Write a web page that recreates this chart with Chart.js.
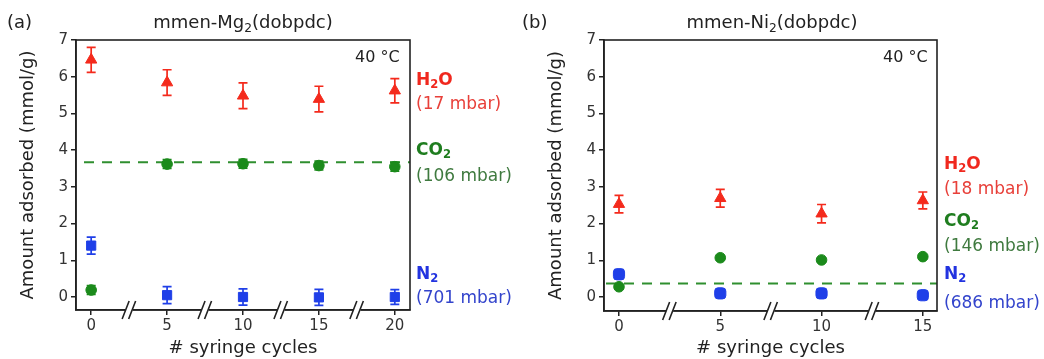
<!DOCTYPE html>
<html><head><meta charset="utf-8">
<script src="https://cdn.jsdelivr.net/npm/chart.js@4/dist/chart.umd.min.js"></script>
<style>
body{margin:0;background:#fff;width:1044px;height:359px;overflow:hidden;position:relative;font-family:"DejaVu Sans",sans-serif;color:#222;}
canvas{position:absolute;top:0}
.t{position:absolute;white-space:nowrap;line-height:20px;}
.t sub{font-size:0.68em;vertical-align:-0.3em;line-height:0}
.c{transform:translateX(-50%)}
.r{color:#f0281e}.rl{color:#e8403a}
.g{color:#1f7d1f}.gl{color:#3f7a3f}
.b{color:#2233e0}.bl{color:#3344cc}
.bold{font-weight:bold}
</style></head><body>
<canvas id="ca" width="520" height="359" style="left:0"></canvas>
<canvas id="cb" width="524" height="359" style="left:520px"></canvas>

<div class="t" style="left:7px;top:12px;font-size:18px">(a)</div>
<div class="t c" style="left:243px;top:12px;font-size:18px">mmen-Mg<sub>2</sub>(dobpdc)</div>
<div class="t" style="left:355px;top:47px;font-size:16px">40 °C</div>
<div class="t bold r" style="left:416px;top:69px;font-size:17px">H<sub>2</sub>O</div>
<div class="t rl" style="left:416px;top:93px;font-size:17px">(17 mbar)</div>
<div class="t bold g" style="left:416px;top:139px;font-size:17px">CO<sub>2</sub></div>
<div class="t gl" style="left:416px;top:165px;font-size:17px">(106 mbar)</div>
<div class="t bold b" style="left:416px;top:263px;font-size:17px">N<sub>2</sub></div>
<div class="t bl" style="left:416px;top:287px;font-size:17px">(701 mbar)</div>

<div class="t" style="left:522px;top:12px;font-size:18px">(b)</div>
<div class="t c" style="left:772px;top:12px;font-size:18px">mmen-Ni<sub>2</sub>(dobpdc)</div>
<div class="t" style="left:883px;top:47px;font-size:16px">40 °C</div>
<div class="t bold r" style="left:944px;top:153px;font-size:17px">H<sub>2</sub>O</div>
<div class="t rl" style="left:944px;top:178px;font-size:17px">(18 mbar)</div>
<div class="t bold g" style="left:944px;top:210px;font-size:17px">CO<sub>2</sub></div>
<div class="t gl" style="left:944px;top:235px;font-size:17px">(146 mbar)</div>
<div class="t bold b" style="left:944px;top:263px;font-size:17px">N<sub>2</sub></div>
<div class="t bl" style="left:944px;top:292px;font-size:17px">(686 mbar)</div>

<script>
// ---- Data: panel (a) mmen-Mg2(dobpdc) ----
const cyclesA = [0, 5, 10, 15, 20];
const h2oA    = [6.46, 5.84, 5.48, 5.39, 5.62];
const h2oErrA = [0.34, 0.35, 0.35, 0.35, 0.33];
const co2A    = [0.19, 3.62, 3.63, 3.58, 3.55];
const co2ErrA = [0.12, 0.12, 0.12, 0.12, 0.12];
const n2A     = [1.40, 0.05, 0.00, -0.01, 0.00];
const n2ErrA  = [0.23, 0.23, 0.22, 0.22, 0.20];
const co2RefA = 3.67;
const breaksA = [2.5, 7.5, 12.5, 17.5];

// ---- Data: panel (b) mmen-Ni2(dobpdc) ----
const cyclesB = [0, 5, 10, 15];
const h2oB    = [2.53, 2.69, 2.27, 2.63];
const h2oErrB = [0.24, 0.24, 0.25, 0.23];
const co2B    = [0.28, 1.07, 1.01, 1.10];
const co2ErrB = [0.05, 0.05, 0.05, 0.05];
const n2B     = [0.62, 0.10, 0.10, 0.05];
const n2ErrB  = [0.13, 0.08, 0.08, 0.08];
const co2RefB = 0.37;
const breaksB = [2.5, 7.5, 12.5];

const yTicks = [0, 1, 2, 3, 4, 5, 6, 7];

const RED = '#f42a1c', GREEN = '#1b8a1b', BLUE = '#1f3fe8', AXIS = '#222';
const FONT = '"DejaVu Sans", sans-serif';

const pts = (xs, ys) => xs.map((x, i) => ({x, y: ys[i]}));

const decor = {
  id: 'decor',
  beforeDatasetsDraw(chart, args, o) {
    const {ctx, chartArea: a, scales: {x, y}} = chart;
    ctx.save();
    const yy = y.getPixelForValue(o.ref);
    ctx.strokeStyle = '#2f8f2f'; ctx.lineWidth = 2; ctx.setLineDash([10, 8]);
    ctx.beginPath(); ctx.moveTo(a.left + o.refStart, yy); ctx.lineTo(a.right, yy); ctx.stroke();
    ctx.setLineDash([]);
    chart.data.datasets.forEach(ds => {
      if (!ds.err) return;
      ctx.strokeStyle = ds.borderColor; ctx.lineWidth = 1.7;
      ds.data.forEach((p, i) => {
        const px = x.getPixelForValue(p.x);
        const t = y.getPixelForValue(p.y + ds.err[i]);
        const b = y.getPixelForValue(p.y - ds.err[i]);
        ctx.beginPath();
        ctx.moveTo(px, t); ctx.lineTo(px, b);
        ctx.moveTo(px - 4.5, t); ctx.lineTo(px + 4.5, t);
        ctx.moveTo(px - 4.5, b); ctx.lineTo(px + 4.5, b);
        ctx.stroke();
      });
    });
    ctx.restore();
  },
  afterDraw(chart, args, o) {
    const {ctx, chartArea: a, scales: {x}} = chart;
    ctx.save();
    ctx.strokeStyle = AXIS; ctx.lineWidth = 1.6;
    ctx.strokeRect(a.left, a.top, a.right - a.left, a.bottom - a.top);
    o.breaks.forEach(v => {
      const px = x.getPixelForValue(v);
      ctx.fillStyle = '#fff';
      ctx.fillRect(px - 3.5, a.bottom - 2, 7, 4);
      ctx.strokeStyle = AXIS; ctx.lineWidth = 1.6;
      ctx.beginPath();
      ctx.moveTo(px - 7, a.bottom + 9); ctx.lineTo(px, a.bottom - 9);
      ctx.moveTo(px - 0.5, a.bottom + 9); ctx.lineTo(px + 6.5, a.bottom - 9);
      ctx.stroke();
    });
    ctx.restore();
  }
};

function makeChart(id, cyc, h2o, h2oE, co2, co2E, n2, n2E, ref, breaks, cfg) {
  const common = {showLine: false, pointBorderWidth: 1};
  return new Chart(document.getElementById(id), {
    type: 'scatter',
    data: {
      datasets: [
        {...common, label: 'CO2', data: pts(cyc, co2), err: co2E, pointStyle: 'circle', pointRadius: 5.3,
         backgroundColor: GREEN, borderColor: GREEN},
        {...common, label: 'N2', data: pts(cyc, n2), err: n2E, pointStyle: cfg.n2Style, pointRadius: 6.5,
         backgroundColor: BLUE, borderColor: BLUE},
        {...common, label: 'H2O', data: pts(cyc, h2o), err: h2oE, pointStyle: 'triangle', pointRadius: 6.5,
         backgroundColor: RED, borderColor: RED}
      ]
    },
    options: {
      responsive: false, animation: false, devicePixelRatio: 1,
      layout: {padding: {left: cfg.padLeft, right: cfg.padRight, top: 40, bottom: 0}},
      plugins: {legend: {display: false}, tooltip: {enabled: false},
        decor: {ref, breaks, refStart: cfg.refStart}},
      scales: {
        x: {
          type: 'linear', min: cfg.xmin, max: cfg.xmax,
          afterBuildTicks: s => { s.ticks = cyc.map(v => ({value: v})); },
          afterFit: s => { s.height = cfg.xh; },
          ticks: {color: '#333', font: {family: FONT, size: 15}, padding: 2, autoSkip: false, maxRotation: 0,
                  callback: v => String(v)},
          grid: {drawOnChartArea: false, drawTicks: true, tickLength: 5, color: AXIS, lineWidth: 1.5},
          border: {display: true, color: AXIS, width: 1.6},
          title: {display: true, text: '# syringe cycles', color: '#222', font: {family: FONT, size: 18},
                  padding: {top: 0, bottom: 0}}
        },
        y: {
          min: cfg.ymin, max: 7,
          afterBuildTicks: s => { s.ticks = yTicks.map(v => ({value: v})); },
          afterFit: s => { s.width = 76; },
          ticks: {color: '#333', font: {family: FONT, size: 15}, padding: 3},
          grid: {drawOnChartArea: false, drawTicks: true, tickLength: 5, color: AXIS, lineWidth: 1.5},
          border: {display: true, color: AXIS, width: 1.6},
          title: {display: true, text: 'Amount adsorbed (mmol/g)', color: '#222', font: {family: FONT, size: 18},
                  padding: {top: 18, bottom: 0}}
        }
      }
    },
    plugins: [decor]
  });
}

makeChart('ca', cyclesA, h2oA, h2oErrA, co2A, co2ErrA, n2A, n2ErrA, co2RefA, breaksA,
  {padLeft: 0, padRight: 110, xmin: -1, xmax: 21, xh: 49, ymin: -0.354, refStart: 8, n2Style: 'rect'});
makeChart('cb', cyclesB, h2oB, h2oErrB, co2B, co2ErrB, n2B, n2ErrB, co2RefB, breaksB,
  {padLeft: 8, padRight: 107, xmin: -0.74, xmax: 15.7, xh: 48, ymin: -0.38, refStart: 2, n2Style: 'rectRounded'});
</script>
</body></html>
